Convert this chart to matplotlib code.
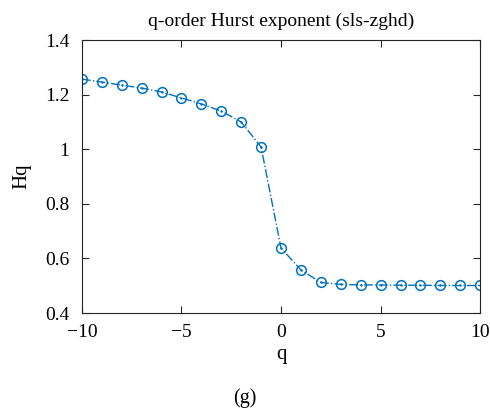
import numpy as np
import matplotlib.pyplot as plt

plt.rcParams['font.family'] = ['Liberation Serif', 'DejaVu Serif']

# q orders and the generalized Hurst exponent at each
q = np.arange(-10, 11)
hq = [1.257, 1.246, 1.235, 1.224, 1.210, 1.188, 1.166, 1.140, 1.100, 1.008,
      0.638, 0.558, 0.512, 0.505, 0.503, 0.503, 0.502, 0.502, 0.501, 0.501, 0.501]

fig = plt.figure(figsize=(4.9, 4.13), dpi=100)
ax = fig.add_axes([0.167, 0.242, 0.813, 0.661])

ax.plot(q, hq, linestyle='-.', color='#0072BD', linewidth=1.0,
        marker='o', markersize=7, markerfacecolor='none', markeredgewidth=1.1)
ax.plot(q, hq, linestyle='none', color='#0072BD', marker='.', markersize=1.5)

ax.set_xlim(-10, 10)
ax.set_ylim(0.4, 1.4)
ax.set_xticks([-10, -5, 0, 5, 10])
ax.set_xticklabels(['\u221210', '\u22125', '0', '5', '10'])
ax.set_yticks([0.4, 0.6, 0.8, 1.0, 1.2, 1.4])
ax.set_yticklabels(['0.4', '0.6', '0.8', '1', '1.2', '1.4'])
ax.tick_params(direction='in', top=True, right=True, labelsize=14,
               length=5, width=0.8, color='#262626')
ax.tick_params(axis='x', pad=8)
ax.tick_params(axis='y', pad=9)
for s in ax.spines.values():
    s.set_color('#262626')
    s.set_linewidth(0.8)

ax.set_title('q-order Hurst exponent (sls-zghd)', fontsize=14, pad=10)
ax.set_xlabel('q', fontsize=15, labelpad=3)
ax.set_ylabel('Hq', fontsize=15, labelpad=10)
fig.text(0.5, 0.025, '(g)', ha='center', fontsize=14.5)

fig.savefig('out.png', dpi=100)
